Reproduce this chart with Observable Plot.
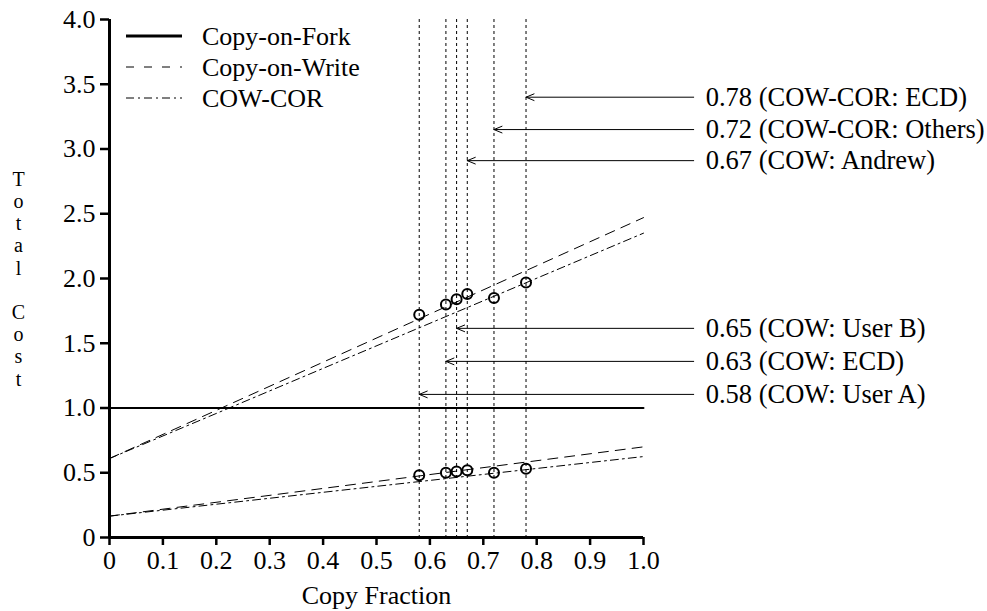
<!DOCTYPE html>
<html>
<head>
<meta charset="utf-8">
<script src="https://cdn.jsdelivr.net/npm/d3@7"></script>
<script src="https://cdn.jsdelivr.net/npm/@observablehq/plot@0.6"></script>
<style>
  html, body { margin: 0; padding: 0; background: #fff; }
  #wrap { position: relative; width: 987px; height: 611px; font-family: "Liberation Serif", "Times New Roman", serif; }
  #legend { position: absolute; left: 122px; top: 22px; }
</style>
</head>
<body>
<div id="wrap"><div id="legend"></div></div>
<script>
// ---- data ----
const fractions = [0.58, 0.63, 0.65, 0.67, 0.72, 0.78];
const highCost = [1.72, 1.80, 1.84, 1.88, 1.85, 1.97];
const lowCost = [0.48, 0.50, 0.51, 0.52, 0.50, 0.53];
const annotLabels = ["0.58 (COW: User A)", "0.63 (COW: ECD)", "0.65 (COW: User B)", "0.67 (COW: Andrew)", "0.72 (COW-COR: Others)", "0.78 (COW-COR: ECD)"];
const annotY = [1.105, 1.36, 1.615, 2.91, 3.15, 3.40];
const annotStartX = 1.094;
const lineX = [0, 1];
const forkCost = [1.0, 1.0];
const cowHigh = [0.61, 2.47];
const cowLow = [0.165, 0.70];
const corHigh = [0.61, 2.35];
const corLow = [0.165, 0.625];
const xTicks = [0, 0.1, 0.2, 0.3, 0.4, 0.5, 0.6, 0.7, 0.8, 0.9, 1.0];
const yTicks = [0, 0.5, 1.0, 1.5, 2.0, 2.5, 3.0, 3.5, 4.0];
const seriesNames = ["Copy-on-Fork", "Copy-on-Write", "COW-COR"];
const seriesDash = [null, "8,10", "8,4,2,4"];
const seriesWidth = [3, 1, 1];

const FONT = "'Liberation Serif', 'Times New Roman', serif";
const pts = fractions.map((f, i) => ({x: f, hi: highCost[i], lo: lowCost[i]}));
const annots = fractions.map((f, i) => ({x: f, y: annotY[i], label: annotLabels[i]}));
const mk = (ys) => lineX.map((x, i) => ({x, y: ys[i]}));
const fmt = d => d === 0 ? "0" : d.toFixed(1);

const chart = Plot.plot({
  width: 987,
  height: 611,
  marginLeft: 109,
  marginRight: 344,
  marginTop: 19,
  marginBottom: 74,
  style: {fontFamily: FONT, fontSize: "26px", background: "white", color: "black"},
  x: {domain: [0, 1]},
  y: {domain: [0, 4]},
  marks: [
    Plot.ruleX(fractions, {stroke: "black", strokeWidth: 1, strokeDasharray: "3,3"}),
    Plot.line(mk(forkCost), {x: "x", y: "y", stroke: "black", strokeWidth: 2}),
    Plot.line(mk(cowHigh), {x: "x", y: "y", stroke: "black", strokeWidth: 1, strokeDasharray: "10,7"}),
    Plot.line(mk(cowLow), {x: "x", y: "y", stroke: "black", strokeWidth: 1, strokeDasharray: "10,7"}),
    Plot.line(mk(corHigh), {x: "x", y: "y", stroke: "black", strokeWidth: 1, strokeDasharray: "8,4,2,4"}),
    Plot.line(mk(corLow), {x: "x", y: "y", stroke: "black", strokeWidth: 1, strokeDasharray: "8,4,2,4"}),
    Plot.dot(pts, {x: "x", y: "hi", r: 5, stroke: "black", strokeWidth: 2, fill: "none"}),
    Plot.dot(pts, {x: "x", y: "lo", r: 5, stroke: "black", strokeWidth: 2, fill: "none"}),
    Plot.arrow(annots, {x1: () => annotStartX, y1: "y", x2: "x", y2: "y", stroke: "black", strokeWidth: 1, headLength: 13, headAngle: 45}),
    Plot.text(annots, {x: () => annotStartX, y: "y", text: "label", textAnchor: "start", dx: 12, fontSize: 26.5, fontFamily: FONT, fill: "black"}),
    Plot.axisX({ticks: xTicks, tickFormat: fmt, tickSize: 8, tickPadding: 5, strokeWidth: 2.5, fontSize: 26, fontFamily: FONT,
      label: "Copy Fraction", labelAnchor: "center", labelArrow: "none", labelOffset: 66}),
    Plot.axisY({ticks: yTicks, tickFormat: fmt, tickSize: 9, tickPadding: 5, strokeWidth: 2.5, fontSize: 26, fontFamily: FONT, label: null}),
    Plot.text(["T\no\nt\na\nl\n\nC\no\ns\nt"], {frameAnchor: "left", dx: -91, text: d => d, textAnchor: "middle", lineHeight: 1.11, fontSize: 20, fontFamily: FONT, fill: "black"}),
    Plot.ruleX([0], {stroke: "black", strokeWidth: 3}),
    Plot.ruleY([0], {stroke: "black", strokeWidth: 3})
  ]
});
document.getElementById("wrap").prepend(chart);

// legend (HTML/SVG overlay)
const lg = d3.select("#legend").append("svg").attr("width", 300).attr("height", 100);
seriesNames.forEach((name, i) => {
  const y = 14 + i * 31;
  lg.append("line").attr("x1", 4).attr("x2", 60).attr("y1", y).attr("y2", y)
    .attr("stroke", "black").attr("stroke-width", seriesWidth[i])
    .attr("stroke-dasharray", seriesDash[i]);
  lg.append("text").attr("x", 80).attr("y", y).attr("dy", "0.35em")
    .attr("font-family", FONT).attr("font-size", 26)
    .text(name);
});
</script>
</body>
</html>
